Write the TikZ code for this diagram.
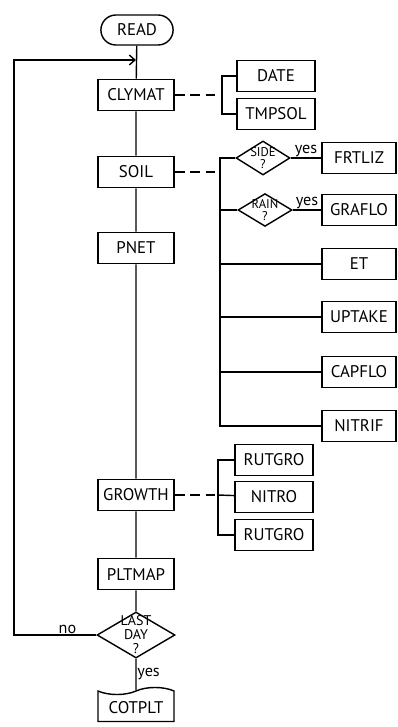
\documentclass[tikz,border=0pt]{standalone}
\usepackage{fontspec}
\setmainfont{PT Sans}
\usetikzlibrary{shapes.geometric,shapes.misc,shapes.symbols,arrows.meta}

\begin{document}
\begin{tikzpicture}[
	x=0.025cm, y=-0.025cm,
	every node/.style={font=\fontsize{12}{13}\selectfont},
	box/.style={draw, line width=1pt, minimum width=1.9cm, minimum height=0.78cm, inner sep=1pt},
	side box/.style={box, minimum width=1.95cm},
	edge box/.style={box, minimum width=1.85cm},
	test/.style={draw, diamond, line width=1pt, inner sep=0pt},
	test text/.style={align=center, inner sep=0pt, font=\fontsize{9}{9}\selectfont},
	link/.style={line width=1pt},
	link dashed/.style={line width=1pt, dash pattern=on 7pt off 4pt},
	answer/.style={font=\fontsize{11.5}{12}\selectfont, inner sep=0.5pt}
	]
	\useasboundingbox (0,0) rectangle (398,727);

	% main column
	\node[box, rounded rectangle, minimum width=1.875cm, minimum height=0.75cm] (READ) at (137,30) {READ};
	\node[box] (CLYMAT) at (136,95) {CLYMAT};
	\node[box] (SOIL) at (136,172) {SOIL};
	\node[box] (PNET) at (136,248) {PNET};
	\node[box] (GROWTH) at (136,495) {GROWTH};
	\node[box] (PLTMAP) at (136,574) {PLTMAP};
	\node[test, minimum width=1.95cm, minimum height=1.15cm,
		label={[test text, font=\fontsize{10}{10}\selectfont]center:LAST\\DAY\\?}] (LASTDAY) at (136,635) {};
	\node[box, tape, tape bend top=in and out, tape bend bottom=none, minimum height=0.85cm] (COTPLT) at (136,708) {COTPLT};

	% CLYMAT calls
	\node[side box] (DATE) at (276,76) {DATE};
	\node[side box] (TMPSOL) at (276,114) {TMPSOL};

	% SOIL calls
	\node[test, minimum width=1.35cm, minimum height=0.85cm,
		label={[test text]center:SIDE\\?}] (SIDE) at (263,158) {};
	\node[edge box] (FRTLIZ) at (359,158) {FRTLIZ};
	\node[test, minimum width=1.35cm, minimum height=0.82cm,
		label={[test text]center:RAIN\\?}] (RAIN) at (265,210) {};
	\node[edge box] (GRAFLO) at (359,210) {GRAFLO};
	\node[edge box] (ET) at (359,264) {ET};
	\node[edge box] (UPTAKE) at (359,317) {UPTAKE};
	\node[edge box] (CAPFLO) at (359,372) {CAPFLO};
	\node[edge box] (NITRIF) at (359,426) {NITRIF};

	% GROWTH calls
	\node[side box] (RUTGROa) at (274,460) {RUTGRO};
	\node[side box] (NITRO) at (274,497) {NITRO};
	\node[side box] (RUTGROb) at (274,535) {RUTGRO};

	\draw[link] (READ) -- (CLYMAT) -- (SOIL) -- (PNET) -- (GROWTH) -- (PLTMAP) -- (LASTDAY);
	\draw[link] (LASTDAY) -- node[right, answer] {yes} (COTPLT);

	% daily loop
	\coordinate (loop) at (14,635);
	\coordinate (entry) at (136,60);
	\draw[link, -{Straight Barb[length=4pt, width=7pt]}] (LASTDAY.west) -- node[above, answer, pos=0.35] {no} (loop) |- (entry);

	\coordinate (clybus) at (222,95);
	\draw[link dashed] (CLYMAT) -- (clybus);
	\draw[link] (DATE.west) -| (clybus) |- (TMPSOL.west);

	\coordinate (soilbus) at (220,172);
	\draw[link dashed] (SOIL) -- (soilbus);
	\draw[link] (SIDE.west) -| (soilbus) |- (NITRIF.west);
	\foreach \sub in {RAIN,ET,UPTAKE,CAPFLO}
		\draw[link] (soilbus |- \sub.west) -- (\sub.west);
	\draw[link] (SIDE.east) -- node[above, answer] {yes} (FRTLIZ);
	\draw[link] (RAIN.east) -- node[above, answer] {yes} (GRAFLO);

	\coordinate (growbus) at (218,495);
	\draw[link dashed] (GROWTH) -- (growbus);
	\draw[link] (RUTGROa.west) -| (growbus) |- (RUTGROb.west);
	\draw[link] (growbus) -- (NITRO);
\end{tikzpicture}
\end{document}
